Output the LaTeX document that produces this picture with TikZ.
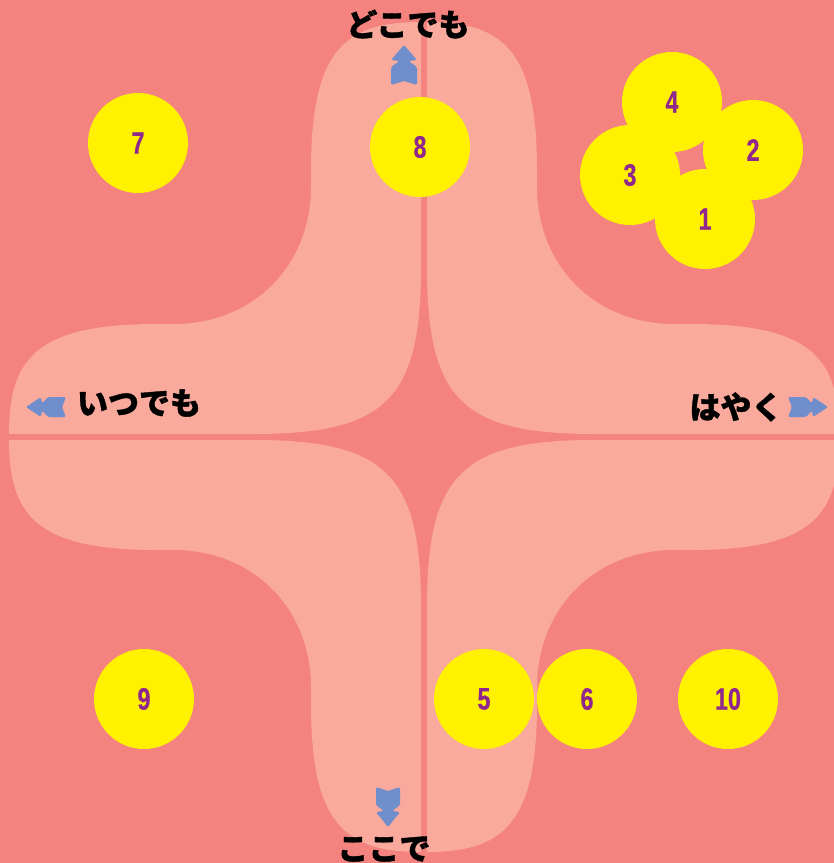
\documentclass[tikz,border=0pt]{standalone}
\usepackage{fontspec}
\newfontfamily\jpfont[FakeBold=1.2]{Noto Sans CJK JP}
\newfontfamily\numfont[FakeStretch=0.75,FakeBold=0.6]{Liberation Sans}
\definecolor{bgc}{HTML}{F4837F}
\definecolor{piecec}{HTML}{F9AA9C}
\definecolor{ballc}{HTML}{FFF100}
\definecolor{numc}{HTML}{90278E}
\definecolor{arrowc}{HTML}{6F8ECB}
\tikzset{
  ball/.style={circle, fill=ballc, minimum size=100pt, inner sep=0pt,
    text=numc, font=\numfont\bfseries\fontsize{31}{31}\selectfont},
  jplabel/.style={inner sep=0pt, text=black, font=\jpfont\bfseries\fontsize{31}{31}\selectfont},
  piece/.style={fill=piecec},
  bluearrow/.style={fill=arrowc, rounded corners=1.5pt}
}
\def\arrowpath#1{(0,-#1) -- (18,-#1) -- (24,{-0.35*#1}) -- (25,-#1) -- (40,0) -- (25,#1) -- (24,{0.35*#1}) -- (18,#1) -- (0,#1) -- (4,0) -- cycle}
\begin{document}
\begin{tikzpicture}[x=1pt,y=-1pt]
\useasboundingbox (0,0) rectangle (834,863);
\fill[bgc] (0,0) rectangle (834,863);
\begin{scope}
\clip (0,0) rectangle (834,863);
\begin{scope}[shift={(424,437)}]
\foreach \sx/\sy in {1/1,-1/1,1/-1,-1/-1}{
  \fill[piece, xscale=\sx, yscale=\sy]
    (-3,-415) .. controls (-79,-415) and (-113,-387) .. (-113,-267)
    -- (-113,-250) .. controls (-113,-171) and (-171,-113) .. (-250,-113)
    -- (-267,-113) .. controls (-387,-113) and (-415,-79) .. (-415,-3)
    -- (-170,-3) .. controls (-38,-3) and (-3,-38) .. (-3,-170) -- cycle;
}
\end{scope}
\end{scope}
% arrows
\fill[bluearrow, shift={(404,85)}, rotate=90] \arrowpath{13};
\fill[bluearrow, shift={(388,787)}, rotate=-90] \arrowpath{12};
\fill[bluearrow, shift={(66,407)}, rotate=180] \arrowpath{10};
\fill[bluearrow, shift={(788,407)}] \arrowpath{10};
% labels
\node[jplabel] (tTop) at (408,24) {どこでも};
\node[jplabel] (tLeft) at (139,403) {いつでも};
\node[jplabel] (tRight) at (736,407) {はやく};
\node[jplabel] (tBottom) at (384,849) {ここで};
% balls
\node[ball] (b7) at (138,143) {7};
\node[ball] (b8) at (420,147) {8};
\node[ball] (b4) at (672,102) {4};
\node[ball] (b3) at (630,175) {3};
\node[ball] (b2) at (753,150) {2};
\node[ball] (b1) at (705,219) {1};
\node[ball] (b9) at (144,699) {9};
\node[ball] (b5) at (484,699) {5};
\node[ball] (b6) at (587,699) {6};
\node[ball] (b10) at (728,699) {10};
\end{tikzpicture}
\end{document}
